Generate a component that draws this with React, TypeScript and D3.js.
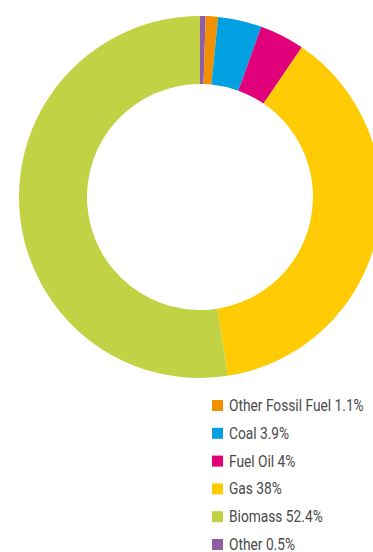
import React from "react";
import * as d3 from "d3";

const categories = ["Other", "Other Fossil Fuel", "Coal", "Fuel Oil", "Gas", "Biomass"];
const values = [0.5, 1.1, 3.9, 4, 38, 52.4];
const colors = ["#8f5ca5", "#f29100", "#00a0e2", "#e2007a", "#ffcb05", "#c1d244"];
const legendOrder = ["Other Fossil Fuel", "Coal", "Fuel Oil", "Gas", "Biomass", "Other"];
const legendLabels = ["Other Fossil Fuel 1.1%", "Coal 3.9%", "Fuel Oil 4%", "Gas 38%", "Biomass 52.4%", "Other 0.5%"];

export default function App() {
  const W = 373, H = 552;
  const cx = 200, cy = 197, rOuter = 181, rInner = 113;
  const data = categories.map((c, i) => ({ c, v: values[i], color: colors[i] }));
  const pie = d3.pie<any>().value((d) => d.v).sort(null);
  const arc = d3.arc<any>().innerRadius(rInner).outerRadius(rOuter);
  const arcs = pie(data);
  const colorOf = d3.scaleOrdinal<string, string>().domain(categories).range(colors);
  const y = d3.scaleBand<string>().domain(legendOrder).range([398, 398 + 27.8 * 6]);
  return (
    <svg width={W} height={H} style={{ position: "absolute", left: 0, top: 0 }}>
      <rect width={W} height={H} fill="#fff" />
      <g transform={`translate(${cx},${cy})`}>
        {arcs.map((a, i) => (
          <path key={i} d={arc(a) as string} fill={a.data.color} />
        ))}
      </g>
      <g>
        {legendOrder.map((c, i) => (
          <g key={c} transform={`translate(212,${y(c)})`}>
            <rect x={0} y={2} width={11} height={11} fill={colorOf(c)} />
            <text transform="translate(17,13) scale(0.86,1)" fontSize={16} fill="#4a4a4a" fontFamily="'Roboto', sans-serif">
              {legendLabels[i]}
            </text>
          </g>
        ))}
      </g>
    </svg>
  );
}
